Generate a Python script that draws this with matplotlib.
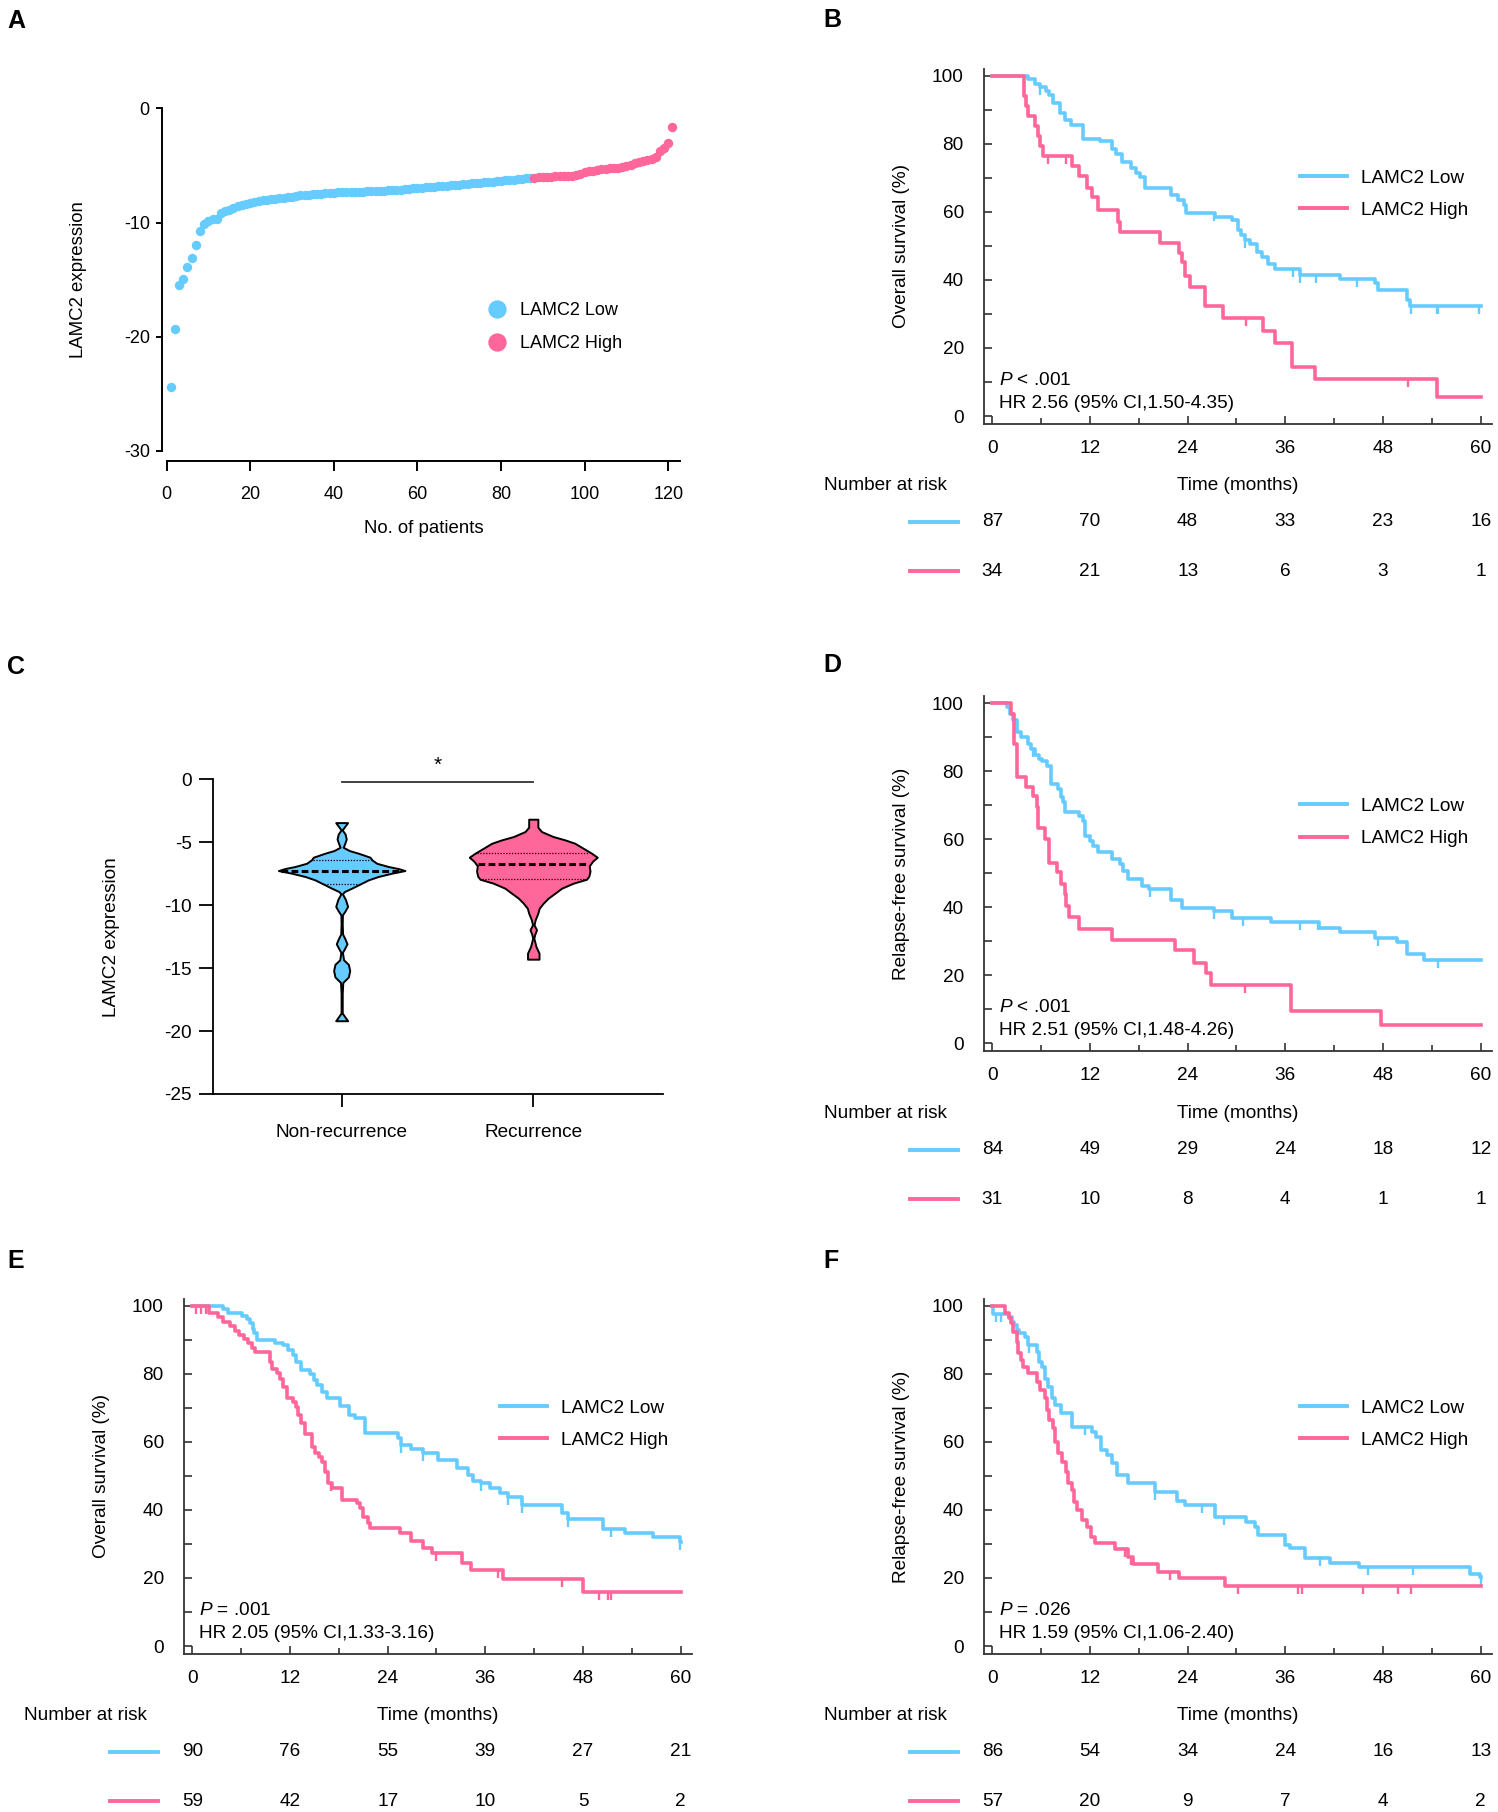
import numpy as np
import matplotlib
matplotlib.use("Agg")
import matplotlib.pyplot as plt
import matplotlib.transforms as mtransforms
from matplotlib.lines import Line2D
from matplotlib.ticker import MultipleLocator

plt.rcParams["font.family"] = ["Liberation Sans", "DejaVu Sans"]
plt.rcParams["axes.unicode_minus"] = False
plt.rcParams["mathtext.fontset"] = "custom"
plt.rcParams["mathtext.it"] = "Liberation Sans:italic"
plt.rcParams["mathtext.rm"] = "Liberation Sans"

BLUE = "#66CCFF"
PINK = "#FF6699"
W, H = 1498, 1812
FS = 13.7

# ---------------- data ----------------
# panel A: LAMC2 expression per patient, sorted
lamc2_expr = [
    -24.4, -19.3, -15.5, -14.9, -13.9, -13.1, -12.0, -10.7, -10.1, -9.9,
    -9.7, -9.65, -9.2, -9.0, -8.9, -8.7, -8.55, -8.46, -8.35, -8.25,
    -8.18, -8.12, -8.05, -8.00, -7.96, -7.92, -7.88, -7.84, -7.80, -7.73,
    -7.67, -7.63, -7.59, -7.56, -7.53, -7.50, -7.47, -7.44, -7.41, -7.39,
    -7.37, -7.35, -7.34, -7.33, -7.32, -7.31, -7.30, -7.28, -7.26, -7.25,
    -7.23, -7.21, -7.19, -7.17, -7.15, -7.12, -7.09, -7.05, -7.01, -6.97,
    -6.94, -6.91, -6.89, -6.86, -6.83, -6.80, -6.77, -6.74, -6.71, -6.68,
    -6.65, -6.62, -6.58, -6.54, -6.51, -6.48, -6.45, -6.42, -6.38, -6.35,
    -6.32, -6.28, -6.24, -6.20, -6.16, -6.12, -6.08, -6.06, -6.04, -6.02,
    -6.00, -5.99, -5.97, -5.96, -5.95, -5.93, -5.90, -5.86, -5.78, -5.62,
    -5.52, -5.45, -5.38, -5.32, -5.29, -5.26, -5.23, -5.20, -5.18, -5.05,
    -4.95, -4.82, -4.68, -4.58, -4.50, -4.40, -4.30, -3.75, -3.45, -3.08,
    -1.60,
]
n_low = 87

# panel C: violin outlines (expression level, half width) and quartiles
nonrec_y = [-3.44, -3.75, -4.02, -4.35, -4.74, -5.10, -5.40, -5.66, -5.87, -6.19,
            -6.40, -6.67, -6.93, -7.09, -7.25, -7.46, -7.72, -7.99, -8.31, -8.65,
            -8.92, -9.10, -9.55, -10.10, -10.50, -10.77, -11.50, -12.30, -12.70, -13.07,
            -13.45, -13.75, -14.34, -14.70, -15.20, -15.70, -16.14, -17.00, -18.57, -19.18]
nonrec_w = [0.031, 0.016, 0.003, 0.018, 0.024, 0.016, 0.008, 0.040, 0.087, 0.148,
            0.158, 0.183, 0.244, 0.296, 0.330, 0.261, 0.191, 0.139, 0.097, 0.052,
            0.014, 0.004, 0.020, 0.031, 0.016, 0.004, 0.003, 0.005, 0.018, 0.028,
            0.015, 0.004, 0.010, 0.035, 0.042, 0.035, 0.006, 0.003, 0.003, 0.031]
rec_y = [-3.17, -3.81, -4.15, -4.55, -4.81, -5.08, -5.48, -5.87, -6.19, -6.50,
         -6.88, -7.30, -7.70, -7.94, -8.25, -8.65, -9.05, -9.44, -9.84, -10.24,
         -10.63, -11.16, -11.56, -11.96, -12.30, -12.62, -13.28, -13.81, -14.29]
rec_w = [0.024, 0.024, 0.043, 0.104, 0.165, 0.217, 0.261, 0.304, 0.334, 0.310,
         0.292, 0.296, 0.290, 0.278, 0.209, 0.148, 0.113, 0.078, 0.052, 0.031,
         0.024, 0.010, 0.004, 0.017, 0.008, 0.003, 0.014, 0.030, 0.030]
nonrec_quart = [-8.31, -7.25, -6.40]
rec_quart = [-7.94, -6.75, -5.87]
groups = ["Non-recurrence", "Recurrence"]

# KM curves: event times (months) and survival (%) after each event
b_low_t = [0, 4.4, 5.2, 5.9, 6.6, 7.0, 7.5, 8.3, 8.9, 9.7, 11.1, 13.2, 14.7, 15.2, 15.9,
           17.1, 17.6, 18.1, 18.8, 22.0, 22.8, 23.5, 23.8, 27.4, 29.4, 30.2, 30.6, 31.0,
           31.6, 32.5, 33.1, 33.9, 34.7, 37.8, 42.7, 47.0, 47.4, 50.9, 51.3]
b_low_s = [100, 98.9, 97.7, 96.6, 95.4, 94.2, 92.0, 88.9, 87.0, 85.6, 81.3, 80.9, 78.6, 77.0, 74.7,
           73.0, 71.5, 70.3, 67.1, 65.0, 63.5, 62.0, 59.8, 58.4, 57.6, 54.7, 53.2, 51.7,
           50.5, 48.3, 46.8, 44.6, 43.1, 41.4, 40.2, 39.0, 37.0, 34.1, 32.3]
b_low_c = [5.9, 27.2, 31.0, 37.0, 37.8, 39.8, 44.8, 51.4, 54.6, 54.8, 59.8]
b_high_t = [0, 3.9, 4.1, 4.4, 5.3, 5.6, 5.9, 6.2, 9.8, 10.6, 11.6, 12.2, 13.0, 15.5,
            15.7, 20.6, 22.9, 23.3, 23.7, 24.3, 26.1, 28.4, 33.3, 34.7, 36.8, 39.6, 54.6]
b_high_s = [100, 94.1, 91.2, 88.2, 85.3, 82.4, 79.4, 76.4, 73.5, 70.5, 66.9, 64.3, 60.5, 57.1,
            54.2, 50.9, 48.0, 45.3, 41.1, 38.0, 32.3, 28.7, 25.1, 21.4, 14.5, 10.8, 5.5]
b_high_c = [6.8, 9.1, 31.2, 51.1]

d_low_t = [0, 1.8, 2.2, 2.6, 3.0, 3.5, 4.4, 4.8, 5.2, 5.7, 6.1, 6.7, 7.2, 8.1, 8.4,
           8.7, 8.9, 10.6, 11.1, 11.4, 12.0, 12.4, 13.0, 14.7, 15.7, 16.1, 16.7, 18.4,
           19.2, 22.0, 23.3, 27.2, 29.4, 34.3, 40.1, 42.7, 47.0, 49.7, 50.9, 53.0]
d_low_s = [100, 98.8, 96.9, 94.9, 91.6, 89.9, 88.0, 86.5, 84.6, 83.6, 83.1, 81.6, 76.2, 74.7, 72.3,
           70.8, 68.0, 66.9, 65.4, 61.0, 59.5, 58.0, 56.2, 54.1, 52.6, 50.6, 48.2, 46.2,
           45.2, 42.1, 39.8, 38.8, 36.9, 35.6, 33.9, 32.6, 31.0, 29.7, 26.1, 24.4]
d_low_c = [5.0, 19.4, 27.2, 30.8, 37.8, 40.0, 47.4, 54.8]
d_high_t = [0, 2.3, 2.7, 3.0, 4.2, 5.0, 5.5, 5.6, 6.5, 7.0, 7.9, 8.5, 8.9, 9.1, 9.4,
            10.7, 14.7, 22.4, 24.8, 26.3, 26.9, 36.7, 47.8]
d_high_s = [100, 96.8, 88.0, 78.4, 75.2, 72.8, 69.3, 63.4, 60.0, 53.1, 50.3, 46.7, 43.8, 40.3, 37.1,
            33.6, 30.3, 27.3, 23.6, 20.6, 17.2, 9.5, 5.4]
d_high_c = [31.0]

e_low_t = [0, 3.8, 4.4, 6.1, 6.7, 7.1, 7.4, 7.6, 7.9, 10.2, 11.2, 11.8, 12.4, 12.8, 13.4,
           14.5, 14.9, 15.3, 15.9, 16.5, 18.1, 19.2, 20.0, 21.2, 25.3, 25.7, 26.9, 28.4,
           30.2, 32.5, 33.9, 34.5, 35.5, 36.6, 37.8, 38.8, 40.5, 45.4, 46.1, 50.5, 53.2,
           56.6, 59.9]
e_low_s = [100, 99.0, 98.0, 97.0, 96.0, 94.8, 93.3, 91.9, 89.9, 89.1, 88.4, 87.0, 85.5, 83.5, 81.1,
           79.9, 78.2, 76.7, 74.7, 72.8, 70.5, 67.9, 66.9, 62.5, 61.0, 59.1, 57.8, 56.8,
           54.7, 52.2, 50.2, 48.6, 47.8, 46.3, 45.1, 43.9, 41.4, 39.2, 37.2, 34.3, 33.3,
           31.9, 30.7]
e_low_c = [25.7, 28.4, 35.5, 38.8, 40.5, 46.2, 51.5, 59.9]
e_high_t = [0, 2.0, 3.1, 3.8, 4.6, 5.2, 5.7, 6.3, 6.9, 7.3, 7.7, 9.5, 9.8, 10.4, 10.8,
            11.2, 11.6, 12.4, 12.8, 13.0, 13.4, 13.8, 14.7, 15.1, 15.6, 15.9, 16.3, 16.7,
            17.2, 18.4, 20.2, 20.6, 21.0, 21.6, 21.8, 25.5, 26.9, 28.4, 29.4, 33.1, 34.3,
            38.2, 48.0]
e_high_s = [100, 98.0, 96.8, 95.3, 94.0, 92.7, 91.4, 90.1, 88.9, 87.5, 86.5, 83.5, 81.3, 80.1, 78.6,
            76.2, 72.8, 71.8, 70.3, 67.9, 65.4, 62.3, 58.6, 56.6, 55.6, 54.2, 51.2, 47.8,
            46.3, 42.9, 41.9, 40.5, 38.0, 36.0, 34.6, 33.1, 30.9, 28.7, 27.2, 24.3, 22.3,
            19.6, 16.0]
e_high_c = [0.5, 1.1, 1.7, 17.0, 29.9, 37.6, 45.4, 50.0, 51.1, 51.5]

f_low_t = [0, 0.1, 2.0, 2.4, 2.7, 3.0, 3.3, 4.0, 4.4, 5.5, 5.7, 6.1, 6.5, 6.9, 7.3,
           7.7, 8.5, 9.8, 12.2, 12.8, 13.4, 14.1, 14.7, 15.3, 16.7, 20.0, 22.7, 23.7,
           27.4, 31.2, 32.3, 32.7, 36.0, 36.6, 38.4, 41.5, 45.0, 58.7, 59.9]
f_low_s = [100, 97.6, 96.6, 95.3, 94.3, 93.0, 92.1, 90.9, 88.4, 86.5, 83.5, 82.0, 78.6, 76.2, 72.8,
           70.8, 68.4, 64.4, 63.0, 61.5, 57.6, 56.1, 53.7, 50.2, 47.8, 45.3, 42.7, 41.4,
           37.8, 36.5, 34.9, 32.6, 29.7, 28.7, 25.8, 24.5, 23.1, 21.2, 20.2]
f_low_c = [0.5, 1.1, 4.5, 11.4, 20.0, 25.8, 28.5, 40.3, 46.2, 51.7, 60.0]
f_high_t = [0, 1.6, 2.0, 2.3, 2.6, 3.0, 3.2, 3.5, 3.8, 4.4, 5.5, 5.9, 6.5, 6.7, 7.0,
            7.4, 7.7, 8.1, 8.6, 9.0, 9.3, 9.8, 10.0, 10.4, 11.0, 11.6, 12.1, 12.6, 15.1,
            16.7, 17.3, 20.4, 22.9, 28.6]
f_high_s = [100, 97.9, 96.3, 94.8, 92.4, 89.4, 86.0, 84.0, 82.1, 80.3, 77.7, 75.2, 72.8, 69.3, 66.4,
            64.0, 60.0, 56.6, 54.2, 51.2, 47.8, 45.8, 42.4, 40.0, 37.0, 34.9, 32.1, 30.4, 28.4,
            26.2, 24.1, 21.8, 19.9, 17.6]
f_high_c = [16.3, 17.0, 21.8, 30.2, 37.6, 38.0, 45.5, 49.9, 51.5]

risk_times = [0, 12, 24, 36, 48, 60]
b_risk = ([87, 70, 48, 33, 23, 16], [34, 21, 13, 6, 3, 1])
d_risk = ([84, 49, 29, 24, 18, 12], [31, 10, 8, 4, 1, 1])
e_risk = ([90, 76, 55, 39, 27, 21], [59, 42, 17, 10, 5, 2])
f_risk = ([86, 54, 34, 24, 16, 13], [57, 20, 9, 7, 4, 2])
follow_up = 60


def add_ax(fig, left, top, right, bottom):
    return fig.add_axes([left / W, 1 - bottom / H, (right - left) / W, (bottom - top) / H])


def step_value(times, surv, t):
    i = np.searchsorted(times, t, side="right") - 1
    return np.asarray(surv)[i]


def km_panel(fig, box, low, high, ylabel, ptext, hrtext, risk, leg_xy, table_y, table_x):
    ax = add_ax(fig, *box)
    for (t, s, c), col in ((low, BLUE), (high, PINK)):
        tt = np.append(t, follow_up)
        ss = np.append(s, s[-1])
        ax.step(tt, ss, where="post", color=col, lw=2.6, zorder=3)
        cy = [step_value(t, s, x) for x in c]
        ax.plot(c, cy, ls="", marker=3, ms=6, mew=1.7, color=col, zorder=3)
    ax.set_xlim(-1.02, 61.39)
    ax.set_ylim(-2.35, 101.97)
    ax.spines["top"].set_visible(False)
    ax.spines["right"].set_visible(False)
    for s in ("left", "bottom"):
        ax.spines[s].set_linewidth(1.3)
        ax.spines[s].set_color("#333333")
    ax.xaxis.set_major_locator(MultipleLocator(12))
    ax.xaxis.set_minor_locator(MultipleLocator(6))
    ax.yaxis.set_major_locator(MultipleLocator(20))
    ax.yaxis.set_minor_locator(MultipleLocator(10))
    ax.tick_params(axis="both", which="both", direction="in", width=1.2, color="#333333")
    ax.tick_params(axis="y", which="both", length=6, pad=14.5, labelsize=FS)
    ax.tick_params(axis="x", which="major", length=5.5, pad=11.5, labelsize=FS)
    ax.tick_params(axis="x", which="minor", length=4)

    ax.set_ylabel(ylabel, fontsize=FS)
    ax.yaxis.label.set_va("center")
    ax.yaxis.set_label_coords(-0.162, 0.5)
    ax.set_xlabel("Time (months)", fontsize=FS)
    ax.xaxis.label.set_va("center")
    ax.xaxis.set_label_coords(0.5, -(table_y[0] - box[3]) / (box[3] - box[1]))

    ax.text(0.03, 0.122, ptext, transform=ax.transAxes, fontsize=FS, ha="left", va="center")
    ax.text(0.03, 0.058, hrtext, transform=ax.transAxes, fontsize=FS, ha="left", va="center")

    handles = [Line2D([], [], color=BLUE, lw=2.8), Line2D([], [], color=PINK, lw=2.8)]
    ax.legend(handles, ["LAMC2 Low", "LAMC2 High"], loc="center left",
              bbox_to_anchor=(leg_xy[0] / W, 1 - leg_xy[1] / H), bbox_transform=fig.transFigure,
              frameon=False, fontsize=FS, handlelength=2.45, handletextpad=0.75,
              labelspacing=0.8, borderpad=0, borderaxespad=0)

    fig.text(table_x / W, 1 - table_y[0] / H, "Number at risk", fontsize=FS, ha="left", va="center")
    trans = mtransforms.blended_transform_factory(ax.transData, fig.transFigure)
    for row_y, counts, col in ((table_y[1], risk[0], BLUE), (table_y[2], risk[1], PINK)):
        for t, n in zip(risk_times, counts):
            ax.text(t, 1 - row_y / H, str(n), transform=trans, fontsize=FS,
                    ha="center", va="center", clip_on=False)
        x0 = table_x + 86
        fig.add_artist(Line2D([x0 / W, (x0 + 48) / W], [1 - row_y / H, 1 - row_y / H],
                              transform=fig.transFigure, color=col, lw=2.8))
    return ax


fig = plt.figure(figsize=(W / 100, H / 100), dpi=100)

# ---------------- panel A ----------------
ax = add_ax(fig, 162, 108.3, 680, 460.7)
idx = np.arange(1, len(lamc2_expr) + 1)
expr = np.array(lamc2_expr)
ax.scatter(idx[:n_low], expr[:n_low], s=46, color=BLUE, lw=0, clip_on=False, zorder=3)
ax.scatter(idx[n_low:], expr[n_low:], s=46, color=PINK, lw=0, clip_on=False, zorder=3)
ax.set_xlim(-1.08, 122.8)
ax.set_ylim(-30.85, 0)
ax.spines["top"].set_visible(False)
ax.spines["right"].set_visible(False)
ax.spines["left"].set_bounds(-30, 0)
ax.spines["bottom"].set_bounds(0, 122.8)
for s in ("left", "bottom"):
    ax.spines[s].set_linewidth(1.4)
ax.set_xticks(range(0, 121, 20))
ax.set_yticks([0, -10, -20, -30])
ax.tick_params(axis="y", direction="out", length=4, width=1.4, pad=4.8, labelsize=13)
ax.tick_params(axis="x", direction="out", length=7, width=1.4, pad=11.5, labelsize=13)
ax.set_xlabel("No. of patients", fontsize=13.4)
ax.xaxis.label.set_va("center")
ax.xaxis.set_label_coords(0.506, -0.191)
ax.set_ylabel("LAMC2 expression", fontsize=13.4)
ax.yaxis.label.set_va("center")
ax.yaxis.set_label_coords(-0.161, 0.513)
leg_handles = [Line2D([], [], ls="", marker="o", ms=13.2, mew=0, color=BLUE),
               Line2D([], [], ls="", marker="o", ms=13.2, mew=0, color=PINK)]
ax.legend(leg_handles, ["LAMC2 Low", "LAMC2 High"], loc="center left",
          bbox_to_anchor=(488 / W, 1 - 327 / H), bbox_transform=fig.transFigure,
          frameon=False, fontsize=13, handlelength=1.0, handletextpad=0.8,
          labelspacing=0.9, borderpad=0, borderaxespad=0)

# ---------------- panel C ----------------
ax = add_ax(fig, 212.7, 779.3, 663, 1094)
for pos, ys, ws, q, col in ((1, nonrec_y, nonrec_w, nonrec_quart, BLUE),
                            (2, rec_y, rec_w, rec_quart, PINK)):
    ys = np.array(ys)
    ws = np.array(ws)
    ax.fill_betweenx(ys, pos - ws, pos + ws, facecolor=col, edgecolor="black", lw=1.4, zorder=2)
    for k, qv in enumerate(q):
        w = np.interp(qv, ys[::-1], ws[::-1]) * 0.96
        if k == 1:
            ax.plot([pos - w, pos + w], [qv, qv], color="black", lw=2.2,
                    ls=(0, (2.2, 1.1)), zorder=3)
        else:
            ax.plot([pos - w, pos + w], [qv, qv], color="black", lw=0.9,
                    ls=(0, (1, 1.3)), zorder=3)
ax.set_xlim(0.327, 2.677)
ax.set_ylim(-25, 0)
ax.spines["top"].set_visible(False)
ax.spines["right"].set_visible(False)
for s in ("left", "bottom"):
    ax.spines[s].set_linewidth(1.3)
ax.set_xticks([1, 2])
ax.set_xticklabels(groups)
ax.set_yticks(range(-25, 1, 5))
ax.tick_params(axis="y", direction="out", length=10.3, width=1.3, pad=4.6, labelsize=FS)
ax.tick_params(axis="x", direction="out", length=9.1, width=1.3, pad=12.8, labelsize=FS)
ax.set_ylabel("LAMC2 expression", fontsize=FS)
ax.yaxis.label.set_va("center")
ax.yaxis.set_label_coords(-0.224, 0.5)
ax.plot([1, 2], [-0.24, -0.24], color="#333333", lw=1.3, clip_on=False)
ax.text(1.5, 1.1, "*", ha="center", va="center", fontsize=15, clip_on=False)

# ---------------- KM panels ----------------
km_panel(fig, (984, 69, 1492, 424),
         (b_low_t, b_low_s, b_low_c), (b_high_t, b_high_s, b_high_c),
         "Overall survival (%)", "$P$ < .001", "HR 2.56 (95% CI,1.50-4.35)",
         b_risk, (1300, 194.2), (486, 521.5, 571), 824)
km_panel(fig, (984, 696.3, 1492, 1051.3),
         (d_low_t, d_low_s, d_low_c), (d_high_t, d_high_s, d_high_c),
         "Relapse-free survival (%)", "$P$ < .001", "HR 2.51 (95% CI,1.48-4.26)",
         d_risk, (1300, 822.5), (1114, 1149.5, 1199), 824)
km_panel(fig, (184, 1299, 692, 1654),
         (e_low_t, e_low_s, e_low_c), (e_high_t, e_high_s, e_high_c),
         "Overall survival (%)", "$P$ = .001", "HR 2.05 (95% CI,1.33-3.16)",
         e_risk, (500, 1424.2), (1716, 1751.5, 1801), 24)
km_panel(fig, (984, 1299, 1492, 1654),
         (f_low_t, f_low_s, f_low_c), (f_high_t, f_high_s, f_high_c),
         "Relapse-free survival (%)", "$P$ = .026", "HR 1.59 (95% CI,1.06-2.40)",
         f_risk, (1300, 1424.2), (1716, 1751.5, 1801), 824)

# panel letters
for letter, (lx, ly) in zip("ABCDEF", [(7, 9), (823, 8.4), (7, 655), (823, 653.5),
                                        (7, 1249), (823, 1249)]):
    fig.text(lx / W, 1 - ly / H, letter, fontsize=18, fontweight="bold", ha="left", va="top")

fig.savefig("out.png", dpi=100)
